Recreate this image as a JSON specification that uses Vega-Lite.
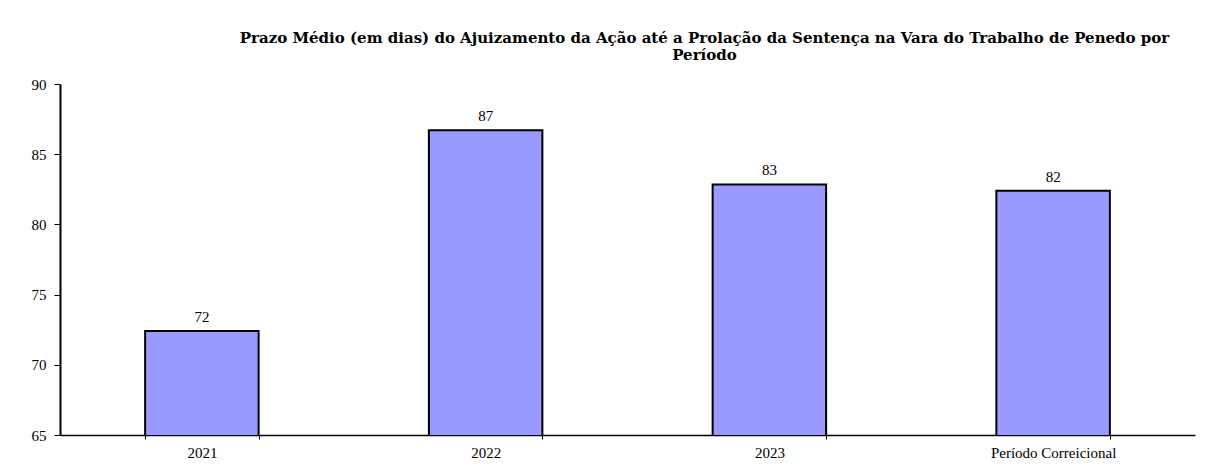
{
  "$schema": "https://vega.github.io/schema/vega-lite/v6.json",
  "width": 1135,
  "height": 351,
  "autosize": {"type": "none"},
  "padding": {"left": 60, "top": 84, "right": 21, "bottom": 39},
  "background": "white",
  "config": {"view": {"stroke": null}, "font": "Times New Roman"},
  "title": {
    "text": ["Prazo Médio (em dias) do Ajuizamento da Ação até a Prolação da Sentença na Vara do Trabalho de Penedo por", "Período"],
    "font": "DejaVu Serif",
    "fontSize": 15,
    "fontWeight": "bold",
    "color": "black",
    "anchor": "middle",
    "dx": 77,
    "offset": 14,
    "lineHeight": 17
  },
  "data": {
    "values": [
      {"periodo": "2021", "prazo": 72.4, "rotulo": "72"},
      {"periodo": "2022", "prazo": 86.7, "rotulo": "87"},
      {"periodo": "2023", "prazo": 82.85, "rotulo": "83"},
      {"periodo": "Período Correicional", "prazo": 82.4, "rotulo": "82"}
    ]
  },
  "encoding": {
    "x": {
      "field": "periodo",
      "type": "nominal",
      "sort": null,
      "scale": {"paddingInner": 0.6, "paddingOuter": 0.3},
      "axis": {
        "title": null,
        "labelAngle": 0,
        "labelFont": "Times New Roman",
        "labelFontSize": 15,
        "labelColor": "black",
        "labelPadding": 6,
        "tickBand": "extent",
        "tickSize": 4,
        "tickColor": "black",
        "domainColor": "black",
        "domainWidth": 1.5,
        "tickWidth": 1
      }
    },
    "y": {
      "field": "prazo",
      "type": "quantitative",
      "scale": {"domain": [65, 90], "nice": false, "zero": false},
      "axis": {
        "title": null,
        "values": [65, 70, 75, 80, 85, 90],
        "grid": false,
        "labelFont": "Times New Roman",
        "labelFontSize": 15,
        "labelColor": "black",
        "labelPadding": 8,
        "tickSize": 6,
        "tickColor": "black",
        "tickWidth": 1,
        "domainColor": "black",
        "domainWidth": 2
      }
    }
  },
  "layer": [
    {
      "mark": {"type": "bar", "fill": "#9999FF", "stroke": "black", "strokeWidth": 2, "clip": true}
    },
    {
      "mark": {"type": "text", "baseline": "bottom", "dy": -6, "font": "Times New Roman", "fontSize": 15, "color": "black"},
      "encoding": {"text": {"field": "rotulo"}}
    }
  ]
}
